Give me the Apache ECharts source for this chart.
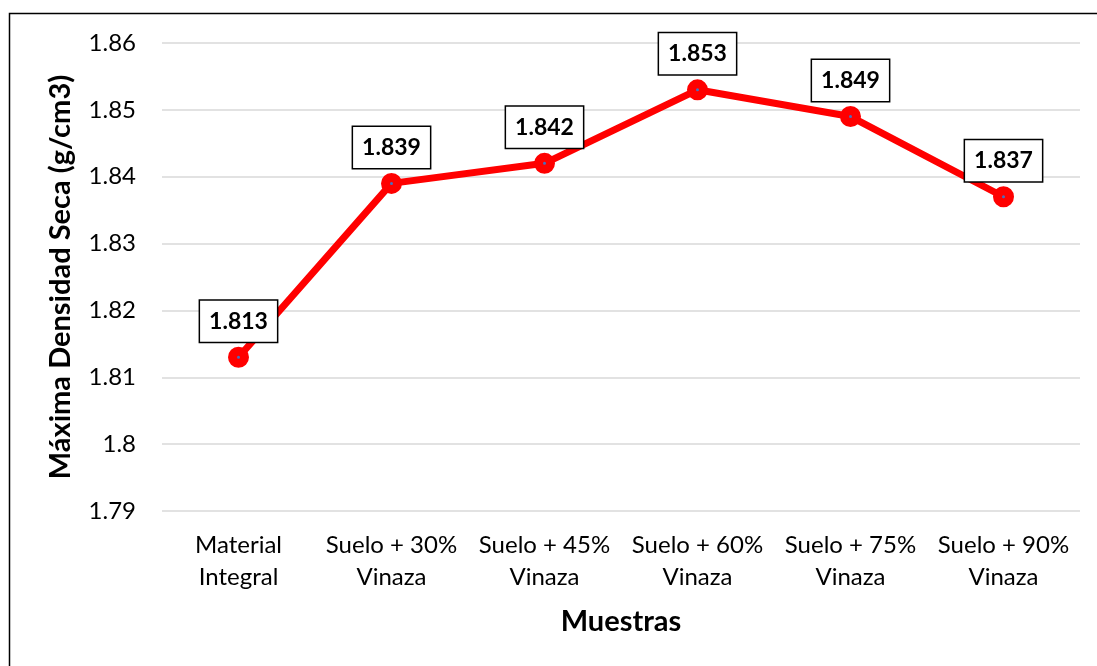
<!DOCTYPE html>
<html>
<head>
<meta charset="utf-8">
<script src="https://cdn.jsdelivr.net/npm/echarts@6/dist/echarts.min.js"></script>
<style>
  html, body { margin: 0; padding: 0; background: #fff; }
  #chart { width: 1097px; height: 666px; }
</style>
</head>
<body>
<div id="chart"></div>
<script>
// Sample names and measured maximum dry densities
const categories = [
  'Material\nIntegral',
  'Suelo + 30%\nVinaza',
  'Suelo + 45%\nVinaza',
  'Suelo + 60%\nVinaza',
  'Suelo + 75%\nVinaza',
  'Suelo + 90%\nVinaza'
];
const densidad = [1.813, 1.839, 1.842, 1.853, 1.849, 1.837];
const yTicks = { min: 1.79, max: 1.86, step: 0.01 };

const FONT = 'Lato, "Open Sans", sans-serif';

const chart = echarts.init(document.getElementById('chart'), null, { renderer: 'canvas' });

chart.setOption({
  backgroundColor: '#ffffff',
  animation: false,
  graphic: [{
    type: 'rect',
    shape: { x: 9.5, y: 13.5, width: 1200, height: 800 },
    style: { fill: 'none', stroke: '#000', lineWidth: 1.5 },
    silent: true
  }],
  grid: { left: 162, right: 17, top: 43, bottom: 155, containLabel: false },
  xAxis: {
    type: 'category',
    data: categories,
    boundaryGap: true,
    name: 'Muestras',
    nameLocation: 'middle',
    nameGap: 96,
    nameTextStyle: { fontFamily: FONT, fontSize: 29, fontWeight: 'bold', color: '#000' },
    axisLine: { show: false },
    axisTick: { show: false },
    axisLabel: {
      fontFamily: FONT, fontSize: 24, color: '#000', lineHeight: 32, margin: 18,
      interval: 0, hideOverlap: false
    }
  },
  yAxis: {
    type: 'value',
    min: yTicks.min,
    max: yTicks.max,
    interval: yTicks.step,
    name: 'Máxima Densidad Seca (g/cm3)',
    nameLocation: 'middle',
    nameGap: 87,
    nameRotate: 90,
    nameTextStyle: { fontFamily: FONT, fontSize: 29, fontWeight: 'bold', color: '#000' },
    axisLine: { show: false },
    axisTick: { show: false },
    splitLine: { lineStyle: { color: '#d9d9d9', width: 1.5 } },
    axisLabel: {
      fontFamily: FONT, fontSize: 24, color: '#000', margin: 26,
      formatter: v => String(parseFloat(v.toFixed(3)))
    }
  },
  series: [{
    type: 'line',
    data: densidad,
    lineStyle: { color: '#ff0000', width: 7 },
    symbol: 'circle',
    symbolSize: 12,
    itemStyle: { color: '#4472c4', borderColor: '#ff0000', borderWidth: 9 },
    label: {
      show: true,
      position: 'top',
      distance: 5,
      fontFamily: FONT,
      fontSize: 23,
      fontWeight: 'bold',
      color: '#000',
      backgroundColor: '#fff',
      borderColor: '#000',
      borderWidth: 1.5,
      padding: [9, 9, 9, 9],
      formatter: p => p.value.toFixed(3)
    },
    z: 3
  }]
});
</script>
</body>
</html>
